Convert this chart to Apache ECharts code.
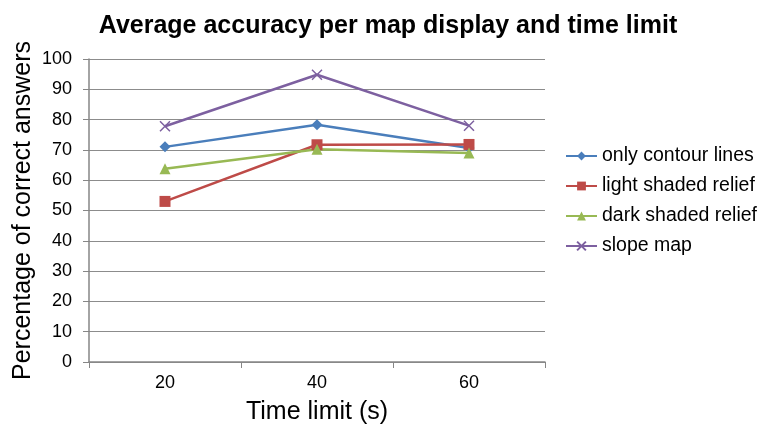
<!DOCTYPE html>
<html>
<head>
<meta charset="utf-8">
<script src="https://cdn.jsdelivr.net/npm/echarts@6/dist/echarts.min.js"></script>
<style>
  html, body { margin: 0; padding: 0; background: #fff; }
  #chart { width: 760px; height: 430px; }
</style>
</head>
<body>
<div id="chart"></div>
<script>
// Time limits (seconds) on the category axis
const timeLimits = ['20', '40', '60'];

// Average percentage of correct answers per map display
const onlyContourLines = [71, 78.3, 70.6];
const lightShadedRelief = [53, 71.7, 71.8];
const darkShadedRelief = [63.8, 70.2, 69];
const slopeMap = [77.8, 94.8, 78];

const FONT = 'Liberation Sans, Arial, sans-serif';
const crossPath = 'path://M0,0L10,10M10,0L0,10';

function lineSeries(name, data, color, symbol, size, extra) {
  return Object.assign({
    name: name,
    type: 'line',
    data: data,
    symbol: symbol,
    symbolSize: size,
    lineStyle: { color: color, width: 2.5 },
    itemStyle: { color: color },
    emphasis: { disabled: true },
    animation: false
  }, extra || {});
}

const chart = echarts.init(document.getElementById('chart'), null, { renderer: 'canvas' });
chart.setOption({
  backgroundColor: '#ffffff',
  animation: false,
  title: {
    text: 'Average accuracy per map display and time limit',
    left: 383,
    textAlign: 'center',
    top: 9,
    textStyle: { fontFamily: FONT, fontSize: 25, fontWeight: 'bold', color: '#000' }
  },
  legend: {
    orient: 'vertical',
    left: 560,
    top: 141,
    itemWidth: 31,
    itemHeight: 11,
    itemGap: 10,
    textStyle: { fontFamily: FONT, fontSize: 19.5, color: '#000' },
    data: ['only contour lines', 'light shaded relief', 'dark shaded relief', 'slope map']
  },
  grid: { left: 89, right: 215, top: 59, bottom: 68, outerBoundsMode: 'none', containLabel: false },
  xAxis: {
    type: 'category',
    data: timeLimits,
    boundaryGap: true,
    name: 'Time limit (s)',
    nameLocation: 'middle',
    nameGap: 38,
    nameMoveOverlap: false,
    nameTextStyle: { fontFamily: FONT, fontSize: 25, color: '#000' },
    axisLine: { lineStyle: { color: '#868686', width: 1.5 } },
    axisTick: { show: true, alignWithLabel: false, length: 6, lineStyle: { color: '#868686' } },
    axisLabel: { fontFamily: FONT, fontSize: 18, color: '#000', margin: 12 },
    splitLine: { show: false }
  },
  yAxis: {
    type: 'value',
    min: 0,
    max: 100,
    interval: 10,
    name: 'Percentage of correct answers',
    nameLocation: 'middle',
    nameGap: 53,
    nameMoveOverlap: false,
    nameTextStyle: { fontFamily: FONT, fontSize: 25, color: '#000' },
    axisLine: { show: true, lineStyle: { color: '#868686', width: 1.5 } },
    axisTick: { show: true, length: 6, lineStyle: { color: '#868686' } },
    axisLabel: { fontFamily: FONT, fontSize: 18, color: '#000', margin: 17 },
    splitLine: { show: true, lineStyle: { color: '#8c8c8c', width: 1 } }
  },
  series: [
    lineSeries('only contour lines', onlyContourLines, '#4A7EBB', 'diamond', 11),
    lineSeries('light shaded relief', lightShadedRelief, '#BE4B48', 'rect', 11),
    lineSeries('dark shaded relief', darkShadedRelief, '#98B954', 'triangle', 11),
    lineSeries('slope map', slopeMap, '#7D60A0', crossPath, 10, {
      itemStyle: { color: '#7D60A0', borderColor: '#7D60A0', borderWidth: 1.5 }
    })
  ]
});
</script>
</body>
</html>
